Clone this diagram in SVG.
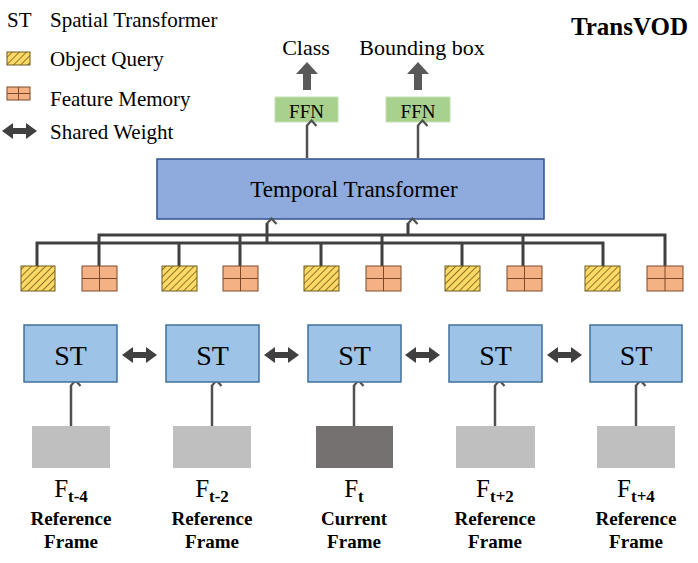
<svg xmlns="http://www.w3.org/2000/svg" width="698" height="563" viewBox="0 0 698 563" font-family="Liberation Serif">
<rect width="698" height="563" fill="#ffffff"/>
<defs>
<pattern id="hatch" patternUnits="userSpaceOnUse" width="5" height="5" patternTransform="rotate(45)">
<rect width="5" height="5" fill="#ffd966"/>
<line x1="0" y1="0" x2="0" y2="5" stroke="#3a3000" stroke-width="1.2"/>
</pattern>
<marker id="open" markerWidth="12" markerHeight="12" refX="6" refY="1.5" orient="auto" markerUnits="userSpaceOnUse" viewBox="0 0 12 12">
<path d="M1,7 L6,1.5 L11,7" fill="none" stroke="#505050" stroke-width="2.2" transform="rotate(90 6 6)"/>
</marker>
<path id="dblarrow" d="M0,0 L11,-8 L11,-3 L24,-3 L24,-8 L35,0 L24,8 L24,3 L11,3 L11,8 Z" fill="#404040"/>
<path id="uparrow" d="M0,0 L11,12 L4,12 L4,28 L-4,28 L-4,12 L-11,12 Z" fill="#595959"/>
</defs>

<g id="legend">
<text x="7" y="27" font-size="21" font-family="Liberation Serif">ST</text>
<text x="50" y="27" font-size="21" font-family="Liberation Serif">Spatial Transformer</text>
<rect x="7" y="52" width="23" height="13" fill="url(#hatch)" stroke="#6b5a1e" stroke-width="1"/>
<text x="50" y="66" font-size="21" font-family="Liberation Serif">Object Query</text>
<rect x="7" y="87" width="23" height="13" fill="#f4b183" stroke="#7a4a2a" stroke-width="1"/>
<path d="M18.5,87 V100 M7,93.5 H30" stroke="#7a4a2a" stroke-width="1"/>
<text x="50" y="106" font-size="21" font-family="Liberation Serif">Feature Memory</text>
<use href="#dblarrow" x="2" y="131"/>
<text x="50" y="139" font-size="21" font-family="Liberation Serif">Shared Weight</text>
</g>

<g id="title">
<text x="688" y="35" font-size="25" font-weight="bold" text-anchor="end" font-family="Liberation Serif">TransVOD</text>
</g>

<g id="outputs">
<text x="306" y="55" font-size="22" text-anchor="middle" font-family="Liberation Serif">Class</text>
<text x="422" y="55" font-size="22" text-anchor="middle" font-family="Liberation Serif">Bounding box</text>
<use href="#uparrow" x="307" y="62"/>
<use href="#uparrow" x="418" y="62"/>
</g>

<g id="ffn1">
<rect x="275" y="97" width="63" height="25" fill="#a9d18e" stroke="#c5e0b4" stroke-width="1"/>
<text x="306.5" y="118" font-size="19" text-anchor="middle" font-family="Liberation Serif">FFN</text>
</g>
<g id="ffn2">
<rect x="386" y="97" width="64" height="25" fill="#a9d18e" stroke="#c5e0b4" stroke-width="1"/>
<text x="418" y="118" font-size="19" text-anchor="middle" font-family="Liberation Serif">FFN</text>
</g>

<g id="temporal">
<rect x="157" y="159" width="387" height="60" fill="#8faadc" stroke="#2f528f" stroke-width="1.5"/>
<text x="354" y="197" font-size="23" text-anchor="middle" font-family="Liberation Serif">Temporal Transformer</text>
</g>

<g id="connectors" fill="none" stroke="#404040">
<path stroke-width="2.5" stroke="#505050" marker-end="url(#open)" d="M307,158 V125"/>
<path stroke-width="2.5" stroke="#505050" marker-end="url(#open)" d="M418,158 V125"/>
<path stroke-width="3" d="M37,266 V243 H603 V266 M179,243 V266 M321,243 V266 M462,243 V266"/>
<path stroke-width="3" d="M99,266 V235 H665 V266 M240,235 V266 M382,235 V266 M523,235 V266"/>
<path stroke-width="3" marker-end="url(#open)" d="M267,243 V223"/>
<path stroke-width="3" marker-end="url(#open)" d="M408,235 V223"/>
<path stroke-width="2.5" stroke="#505050" marker-end="url(#open)" d="M71,426 V385"/>
<path stroke-width="2.5" stroke="#505050" marker-end="url(#open)" d="M212,426 V385"/>
<path stroke-width="2.5" stroke="#505050" marker-end="url(#open)" d="M354,426 V385"/>
<path stroke-width="2.5" stroke="#505050" marker-end="url(#open)" d="M495,426 V385"/>
<path stroke-width="2.5" stroke="#505050" marker-end="url(#open)" d="M636,426 V385"/>
<use href="#dblarrow" x="122" y="355" stroke="none"/>
<use href="#dblarrow" x="264" y="355" stroke="none"/>
<use href="#dblarrow" x="405" y="355" stroke="none"/>
<use href="#dblarrow" x="547" y="355" stroke="none"/>
</g>

<g id="oq1"><rect x="21" y="266" width="34" height="25" fill="url(#hatch)" stroke="#6b5a1e" stroke-width="1"/></g>
<g id="fm1"><rect x="82" y="266" width="35" height="25" fill="#f4b183" stroke="#7a4a2a" stroke-width="1"/><path stroke="#7a4a2a" stroke-width="1" d="M99.5,266 V291 M82,278.5 H117"/></g>
<g id="oq2"><rect x="162" y="266" width="35" height="25" fill="url(#hatch)" stroke="#6b5a1e" stroke-width="1"/></g>
<g id="fm2"><rect x="223" y="266" width="35" height="25" fill="#f4b183" stroke="#7a4a2a" stroke-width="1"/><path stroke="#7a4a2a" stroke-width="1" d="M240.5,266 V291 M223,278.5 H258"/></g>
<g id="oq3"><rect x="304" y="266" width="35" height="25" fill="url(#hatch)" stroke="#6b5a1e" stroke-width="1"/></g>
<g id="fm3"><rect x="366" y="266" width="35" height="25" fill="#f4b183" stroke="#7a4a2a" stroke-width="1"/><path stroke="#7a4a2a" stroke-width="1" d="M383.5,266 V291 M366,278.5 H401"/></g>
<g id="oq4"><rect x="445" y="266" width="35" height="25" fill="url(#hatch)" stroke="#6b5a1e" stroke-width="1"/></g>
<g id="fm4"><rect x="507" y="266" width="35" height="25" fill="#f4b183" stroke="#7a4a2a" stroke-width="1"/><path stroke="#7a4a2a" stroke-width="1" d="M524.5,266 V291 M507,278.5 H542"/></g>
<g id="oq5"><rect x="585" y="266" width="35" height="25" fill="url(#hatch)" stroke="#6b5a1e" stroke-width="1"/></g>
<g id="fm5"><rect x="647" y="266" width="36" height="25" fill="#f4b183" stroke="#7a4a2a" stroke-width="1"/><path stroke="#7a4a2a" stroke-width="1" d="M665,266 V291 M647,278.5 H683"/></g>

<g id="st1"><rect x="24" y="325" width="93" height="57" fill="#9dc3e6" stroke="#41719c" stroke-width="1.5"/><text x="70.5" y="365" font-size="28" text-anchor="middle" font-family="Liberation Serif">ST</text></g>
<g id="st2"><rect x="166" y="325" width="93" height="57" fill="#9dc3e6" stroke="#41719c" stroke-width="1.5"/><text x="212.5" y="365" font-size="28" text-anchor="middle" font-family="Liberation Serif">ST</text></g>
<g id="st3"><rect x="308" y="325" width="93" height="57" fill="#9dc3e6" stroke="#41719c" stroke-width="1.5"/><text x="354.5" y="365" font-size="28" text-anchor="middle" font-family="Liberation Serif">ST</text></g>
<g id="st4"><rect x="449" y="325" width="93" height="57" fill="#9dc3e6" stroke="#41719c" stroke-width="1.5"/><text x="495.5" y="365" font-size="28" text-anchor="middle" font-family="Liberation Serif">ST</text></g>
<g id="st5"><rect x="590" y="325" width="92" height="57" fill="#9dc3e6" stroke="#41719c" stroke-width="1.5"/><text x="636" y="365" font-size="28" text-anchor="middle" font-family="Liberation Serif">ST</text></g>

<g id="frame1">
<rect x="32" y="426" width="78" height="42" fill="#bfbfbf"/>
<text x="71" y="497" font-size="25" text-anchor="middle" font-family="Liberation Serif">F<tspan font-size="17" font-weight="bold" dy="5">t-4</tspan></text>
<text x="71" y="525" font-size="19" font-weight="bold" text-anchor="middle" font-family="Liberation Serif">Reference</text>
<text x="71" y="548" font-size="19" font-weight="bold" text-anchor="middle" font-family="Liberation Serif">Frame</text>
</g>
<g id="frame2">
<rect x="173" y="426" width="78" height="42" fill="#bfbfbf"/>
<text x="212" y="497" font-size="25" text-anchor="middle" font-family="Liberation Serif">F<tspan font-size="17" font-weight="bold" dy="5">t-2</tspan></text>
<text x="212" y="525" font-size="19" font-weight="bold" text-anchor="middle" font-family="Liberation Serif">Reference</text>
<text x="212" y="548" font-size="19" font-weight="bold" text-anchor="middle" font-family="Liberation Serif">Frame</text>
</g>
<g id="frame3">
<rect x="316" y="426" width="77" height="42" fill="#767171"/>
<text x="354" y="497" font-size="25" text-anchor="middle" font-family="Liberation Serif">F<tspan font-size="17" font-weight="bold" dy="5">t</tspan></text>
<text x="354" y="525" font-size="19" font-weight="bold" text-anchor="middle" font-family="Liberation Serif">Current</text>
<text x="354" y="548" font-size="19" font-weight="bold" text-anchor="middle" font-family="Liberation Serif">Frame</text>
</g>
<g id="frame4">
<rect x="456" y="426" width="79" height="42" fill="#bfbfbf"/>
<text x="495" y="497" font-size="25" text-anchor="middle" font-family="Liberation Serif">F<tspan font-size="17" font-weight="bold" dy="5">t+2</tspan></text>
<text x="495" y="525" font-size="19" font-weight="bold" text-anchor="middle" font-family="Liberation Serif">Reference</text>
<text x="495" y="548" font-size="19" font-weight="bold" text-anchor="middle" font-family="Liberation Serif">Frame</text>
</g>
<g id="frame5">
<rect x="597" y="426" width="78" height="42" fill="#bfbfbf"/>
<text x="636" y="497" font-size="25" text-anchor="middle" font-family="Liberation Serif">F<tspan font-size="17" font-weight="bold" dy="5">t+4</tspan></text>
<text x="636" y="525" font-size="19" font-weight="bold" text-anchor="middle" font-family="Liberation Serif">Reference</text>
<text x="636" y="548" font-size="19" font-weight="bold" text-anchor="middle" font-family="Liberation Serif">Frame</text>
</g>
</svg>
